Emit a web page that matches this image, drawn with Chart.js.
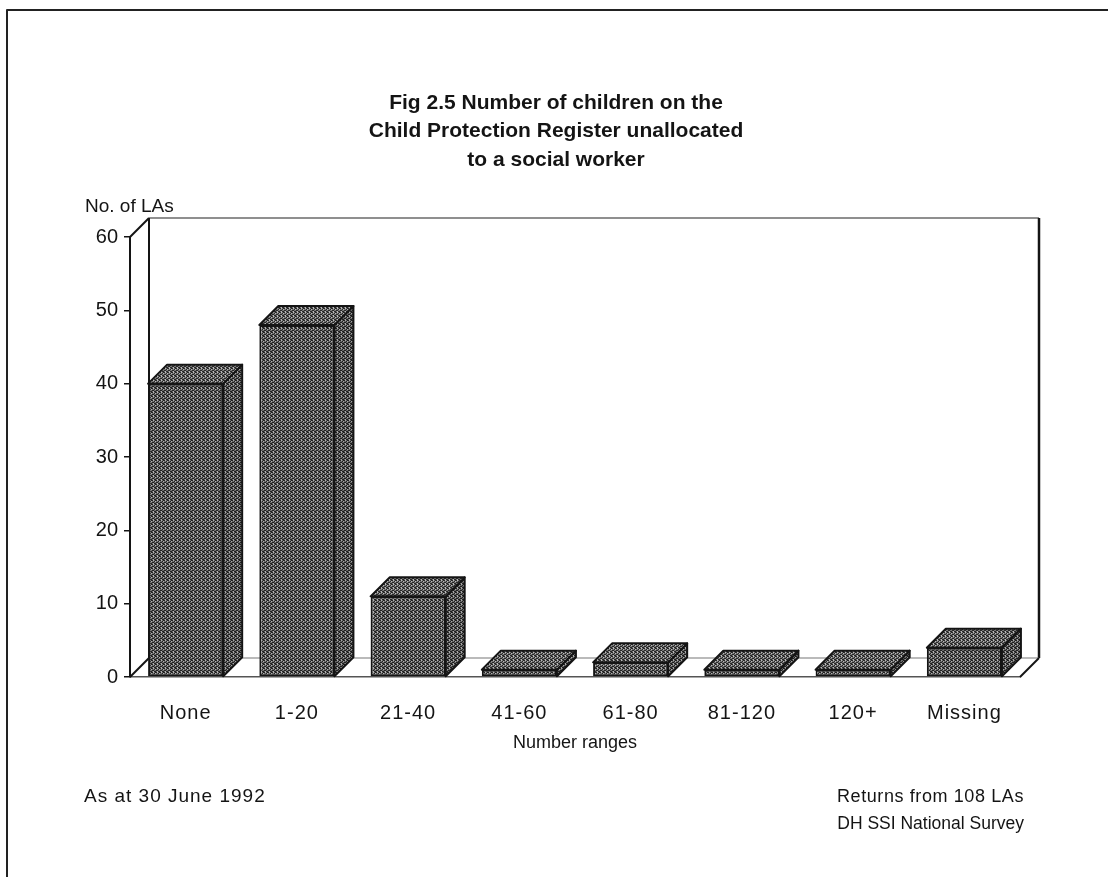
<!DOCTYPE html>
<html>
<head>
<meta charset="utf-8">
<title>Fig 2.5</title>
<script src="https://cdn.jsdelivr.net/npm/chart.js@4.4.0/dist/chart.umd.min.js"></script>
<style>
  html, body { margin: 0; padding: 0; background: #ffffff; }
  #wrap { width: 1108px; height: 877px; position: relative; }
</style>
</head>
<body>
<div id="wrap"><canvas id="chart" width="1108" height="877"></canvas></div>
<script>
// Data
const categories = ['None', '1-20', '21-40', '41-60', '61-80', '81-120', '120+', 'Missing'];
const laCounts = [40, 48, 11, 1, 2, 1, 1, 4];
const yTickValues = [0, 10, 20, 30, 40, 50, 60];

// Texts
const titleLines = ['Fig 2.5 Number of children on the', 'Child Protection Register unallocated', 'to a social worker'];
const yAxisLabel = 'No. of LAs';
const xAxisLabel = 'Number ranges';
const noteLeft = 'As at 30 June 1992';
const notesRight = ['Returns from 108 LAs', 'DH SSI National Survey'];

const FONT = "'Liberation Sans', Arial, Helvetica, sans-serif";
const INK = '#141414';
const DEPTH_X = 19, DEPTH_Y = 19;

// Halftone-like grey texture for the bar faces
function makeTexture(base, dark, light) {
  const c = document.createElement('canvas');
  c.width = 4; c.height = 4;
  const g = c.getContext('2d');
  g.fillStyle = base; g.fillRect(0, 0, 4, 4);
  g.fillStyle = dark;
  [[0, 0], [2, 1], [1, 2], [3, 3], [2, 3], [0, 2], [3, 0]].forEach(([x, y]) => g.fillRect(x, y, 1, 1));
  g.fillStyle = light;
  [[1, 0], [3, 1], [1, 3]].forEach(([x, y]) => g.fillRect(x, y, 1, 1));
  return g.createPattern(c, 'repeat');
}
const frontFill = makeTexture('#6c6c6c', '#222222', '#b0b0b0');
const topFill = makeTexture('#767676', '#282828', '#b8b8b8');
const sideFill = makeTexture('#666666', '#1f1f1f', '#a6a6a6');

function line(ctx, pts, color, width) {
  ctx.save();
  ctx.strokeStyle = color;
  ctx.lineWidth = width;
  ctx.lineJoin = 'round';
  ctx.beginPath();
  ctx.moveTo(pts[0][0], pts[0][1]);
  for (let i = 1; i < pts.length; i++) ctx.lineTo(pts[i][0], pts[i][1]);
  ctx.stroke();
  ctx.restore();
}

function poly(ctx, pts, fill) {
  ctx.save();
  ctx.beginPath();
  ctx.moveTo(pts[0][0], pts[0][1]);
  for (let i = 1; i < pts.length; i++) ctx.lineTo(pts[i][0], pts[i][1]);
  ctx.closePath();
  ctx.fillStyle = fill;
  ctx.fill();
  ctx.strokeStyle = INK;
  ctx.lineWidth = 2;
  ctx.lineJoin = 'round';
  ctx.stroke();
  ctx.restore();
}

function spacedText(ctx, text, x, y, spacing) {
  ctx.letterSpacing = spacing + 'px';
  ctx.fillText(text, x, y);
  ctx.letterSpacing = '0px';
}

// Page frame, back wall, floor, bar depth faces and the page texts
const depthPlugin = {
  id: 'depth3d',
  beforeDraw(chart) {
    const ctx = chart.ctx;
    ctx.save();
    ctx.fillStyle = '#ffffff';
    ctx.fillRect(0, 0, chart.width, chart.height);
    ctx.restore();
    line(ctx, [[7, chart.height], [7, 10], [chart.width, 10]], '#222', 2);
  },
  beforeDatasetsDraw(chart) {
    const ctx = chart.ctx;
    const { left, right, top, bottom } = chart.chartArea;
    const bl = left + DEPTH_X, br = right + DEPTH_X;
    const bt = top - DEPTH_Y, bb = bottom - DEPTH_Y;
    // back wall
    line(ctx, [[bl, bt], [br, bt]], '#6a6a6a', 1.5);
    line(ctx, [[br, bt], [br, bb]], INK, 2.5);
    line(ctx, [[bl, bb], [bl, bt]], INK, 2);
    // side edge of the value axis
    line(ctx, [[left, top], [bl, bt]], INK, 2);
    // floor
    line(ctx, [[bl, bb], [br, bb]], '#777', 1.2);
    line(ctx, [[left, bottom], [bl, bb]], INK, 2);
    line(ctx, [[right, bottom], [br, bb]], INK, 2);
  },
  afterDatasetsDraw(chart) {
    const ctx = chart.ctx;
    chart.getDatasetMeta(0).data.forEach(bar => {
      const { x, y, base, width } = bar.getProps(['x', 'y', 'base', 'width'], true);
      const l = x - width / 2, r = x + width / 2;
      poly(ctx, [[r, y], [r + DEPTH_X, y - DEPTH_Y], [r + DEPTH_X, base - DEPTH_Y], [r, base]], sideFill);
      poly(ctx, [[l, y], [l + DEPTH_X, y - DEPTH_Y], [r + DEPTH_X, y - DEPTH_Y], [r, y]], topFill);
    });
  },
  afterDraw(chart) {
    const ctx = chart.ctx;
    ctx.save();
    ctx.fillStyle = INK;
    ctx.textBaseline = 'middle';
    ctx.textAlign = 'center';
    ctx.font = 'bold 21px ' + FONT;
    titleLines.forEach((t, i) => ctx.fillText(t, 556, 103 + i * 28.5));
    ctx.textAlign = 'left';
    ctx.font = '19px ' + FONT;
    ctx.fillText(yAxisLabel, 85, 207);
    spacedText(ctx, noteLeft, 84, 797, 1);
    ctx.textAlign = 'right';
    ctx.font = '18px ' + FONT;
    spacedText(ctx, notesRight[0], 1024, 797, 0.6);
    ctx.font = '17.5px ' + FONT;
    spacedText(ctx, notesRight[1], 1024, 824, 0);
    ctx.restore();
  }
};

new Chart(document.getElementById('chart'), {
  type: 'bar',
  data: {
    labels: categories,
    datasets: [{
      data: laCounts,
      backgroundColor: frontFill,
      borderColor: INK,
      borderWidth: 2,
      borderSkipped: false,
      categoryPercentage: 1,
      barPercentage: 0.675
    }]
  },
  options: {
    responsive: false,
    animation: false,
    events: [],
    layout: { padding: { left: 60, right: 88, top: 237, bottom: 118 } },
    plugins: {
      legend: { display: false },
      tooltip: { enabled: false },
      title: { display: false }
    },
    scales: {
      x: {
        type: 'category',
        offset: true,
        grid: { display: false, drawTicks: false },
        border: { display: true, color: '#555', width: 1.5 },
        ticks: {
          color: INK,
          font: { family: FONT, size: 20 },
          padding: 24,
          maxRotation: 0,
          autoSkip: false
        },
        title: {
          display: true,
          text: xAxisLabel,
          color: INK,
          font: { family: FONT, size: 18 },
          padding: { top: 0, bottom: 5 }
        },
        afterFit(scale) { scale.height = 82; },
        afterUpdate(scale) {
          // slightly wider tracking for the category labels
          if (!scale._tracked) {
            const drawLabels = scale.drawLabels.bind(scale);
            scale.drawLabels = function (area) {
              const prev = this.ctx.letterSpacing;
              this.ctx.letterSpacing = '1px';
              drawLabels(area);
              this.ctx.letterSpacing = prev || '0px';
            };
            scale._tracked = true;
          }
        }
      },
      y: {
        type: 'linear',
        min: yTickValues[0],
        max: yTickValues[yTickValues.length - 1],
        grid: { drawOnChartArea: false, drawTicks: true, tickLength: 6, color: INK, lineWidth: 1.5 },
        border: { display: true, color: INK, width: 2 },
        afterBuildTicks(scale) { scale.ticks = yTickValues.map(v => ({ value: v })); },
        ticks: {
          color: INK,
          font: { family: FONT, size: 20 },
          padding: 6
        },
        afterFit(scale) { scale.width = 70; }
      }
    }
  },
  plugins: [depthPlugin]
});
</script>
</body>
</html>
